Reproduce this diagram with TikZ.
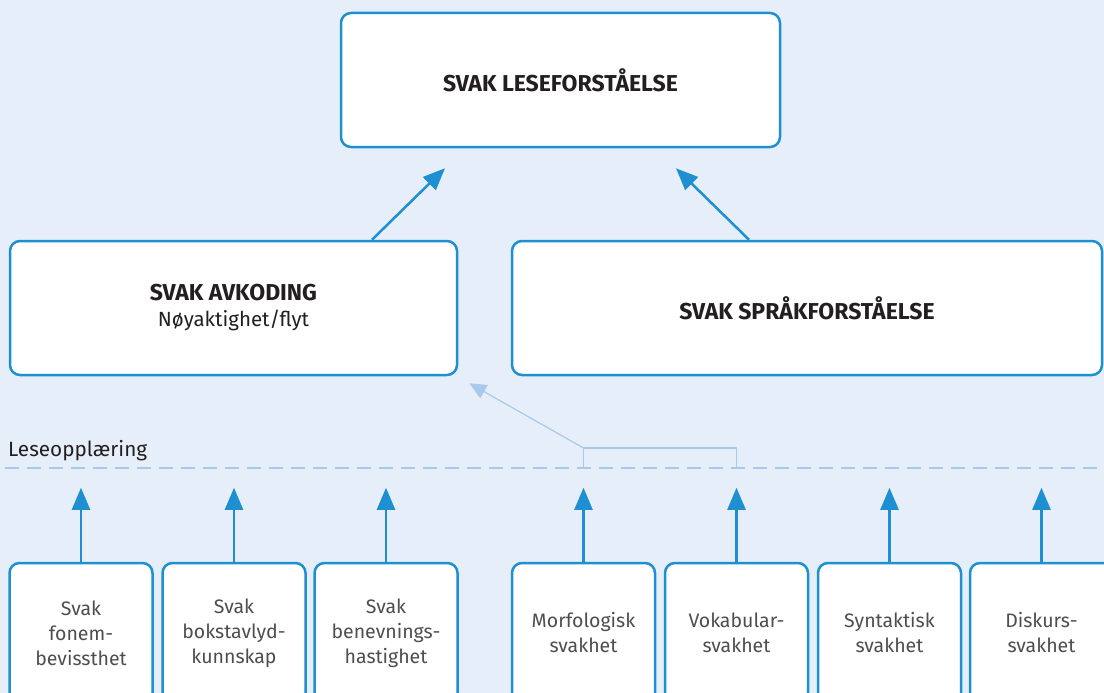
\documentclass[tikz,border=0pt]{standalone}
\usepackage{fontspec}
\setmainfont{Fira Sans}
\usetikzlibrary{arrows.meta}
\definecolor{bg}{HTML}{E6EFF9}
\definecolor{blu}{HTML}{1E90D2}
\definecolor{lblu}{HTML}{A9C9EB}
\definecolor{txt}{HTML}{231F20}
\definecolor{gtxt}{HTML}{4E4E4E}
\begin{document}
\begin{tikzpicture}[x=1pt,y=-1pt,
  box/.style={draw=blu,line width=2.5pt,fill=white,rounded corners=10pt,inner sep=0pt,align=center,text=txt},
  bigbox/.style={box,minimum height=134pt,font=\fontsize{23}{26}\selectfont\bfseries},
  small/.style={box,minimum width=143pt,minimum height=140pt,font=\fontsize{19.5}{25}\selectfont,text=gtxt},
  uparrow/.style={draw=blu,line width=2.5pt,-{Triangle[length=22pt,width=18pt]}},
  lightarrow/.style={draw=lblu,line width=1.2pt,-{Triangle[length=17pt,width=15pt]}},
  lightline/.style={draw=lblu,line width=1.2pt},
  dashline/.style={draw=lblu,line width=1.5pt,dash pattern=on 14pt off 8pt}]
\useasboundingbox (0,0) rectangle (1104,693);
\fill[bg] (0,0) rectangle (1104,693);
\clip (0,0) rectangle (1104,693);
% top boxes
\node[bigbox,minimum width=439pt] (top) at (560.5,80) {SVAK LESEFORSTÅELSE};
\node[bigbox,minimum width=447pt] (avk) at (233.5,308) {SVAK AVKODING\\\fontsize{20.5}{26}\mdseries\selectfont Nøyaktighet/flyt};
\node[bigbox,minimum width=590pt] (spr) at (807,308) {SVAK SPRÅKFORSTÅELSE};
\draw[uparrow] ([xshift=138.5pt]avk.north) -- ([xshift=-115.5pt,yshift=-20pt]top.south);
\draw[uparrow] ([xshift=-58pt]spr.north) -- ([xshift=115.5pt,yshift=-20pt]top.south);
% bottom boxes
\node[small] (b1) at (81,633) {Svak\\fonem-\\bevissthet};
\node[small] (b2) at (234,633) {Svak\\bokstavlyd-\\kunnskap};
\node[small] (b3) at (386,633) {Svak\\benevnings-\\hastighet};
\node[small] (b4) at (583.5,633) {Morfologisk\\svakhet};
\node[small] (b5) at (736.5,633) {Vokabular-\\svakhet};
\node[small] (b6) at (889.5,633) {Syntaktisk\\svakhet};
\node[small] (b7) at (1041.5,633) {Diskurs-\\svakhet};
\foreach \b in {b1,b2,b3,b4,b5,b6,b7}
  \draw[uparrow] (\b.north) -- ([yshift=74pt]\b.north);
% dashed line and label
\coordinate (dl) at (5,468);
\coordinate (dr) at (1104,468);
\draw[dashline] (dl) -- (dr);
\node[anchor=base west,inner sep=0pt,text=txt,font=\fontsize{20.7}{24}\selectfont] (lese) at (8,456) {Leseopplæring};
% bracket and light arrow
\coordinate (bl) at (583.5,448);
\coordinate (br) at (736.5,448);
\draw[lightline] (bl |- dl) -- (bl) -- (br) -- (br |- dl);
\draw[lightarrow] (bl) -- ([xshift=11pt,yshift=-7pt]avk.south east);
\end{tikzpicture}
\end{document}
